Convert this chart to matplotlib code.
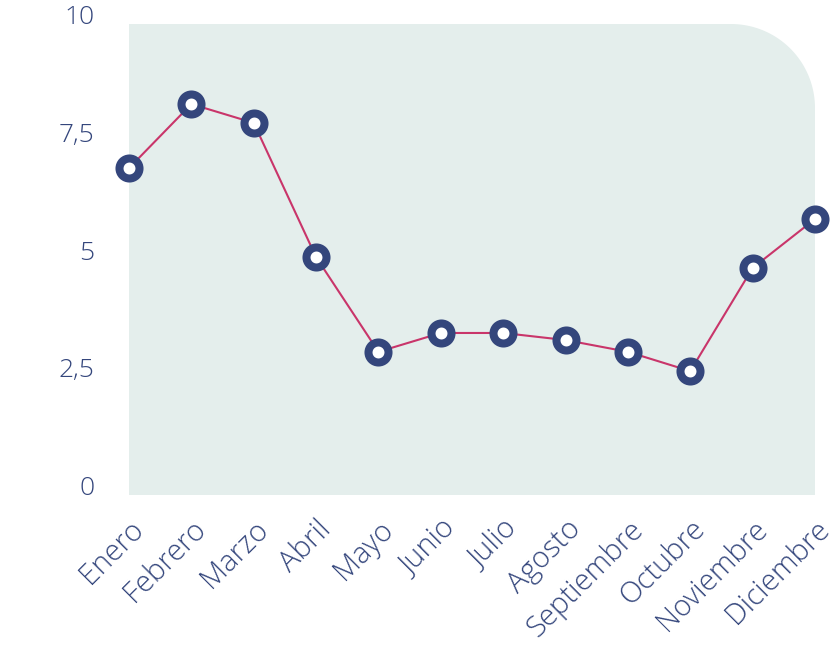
"""monthly line chart with rounded plot background."""
import numpy as np
import matplotlib
matplotlib.use('Agg')
import matplotlib.pyplot as plt
from matplotlib.path import Path
from matplotlib.patches import PathPatch

months = ['Enero', 'Febrero', 'Marzo', 'Abril', 'Mayo', 'Junio', 'Julio',
          'Agosto', 'Septiembre', 'Octubre', 'Noviembre', 'Diciembre']
values = [6.94, 8.30, 7.90, 5.05, 3.04, 3.44, 3.44, 3.29, 3.04, 2.63, 4.82, 5.86]
yticks = [0, 2.5, 5, 7.5, 10]
ytick_labels = ['0', '2,5', '5', '7,5', '10']

navy = '#34467c'
crimson = '#c9356a'
bg = '#e4eeec'

plt.rcParams['font.family'] = ['Open Sans', 'DejaVu Sans']

W, H = 838, 668
fig = plt.figure(figsize=(W / 100, H / 100), dpi=100)
ax = fig.add_axes([129 / W, (H - 495) / H, 686 / W, 471 / H])
ax.patch.set_visible(False)
for s in ax.spines.values():
    s.set_visible(False)

# background with rounded top-right corner (radius in pixels)
r = 84
rx, ry = r / 686, r / 471
t = np.linspace(0, np.pi / 2, 40)
arc = np.column_stack([1 - rx + rx * np.sin(t), 1 - ry + ry * np.cos(t)])
verts = np.vstack([[0, 0], [0, 1], [1 - rx, 1], arc, [1, 0], [0, 0]])
codes = [Path.MOVETO] + [Path.LINETO] * (len(verts) - 2) + [Path.CLOSEPOLY]
ax.add_patch(PathPatch(Path(verts, codes), transform=ax.transAxes,
                       facecolor=bg, edgecolor='none', zorder=0))

x = np.arange(len(months))
ax.plot(x, values, color=crimson, lw=1.5, zorder=2)
ax.plot(x, values, ls='none', marker='o', ms=14.4, mew=5.8,
        mec=navy, mfc='white', zorder=3, clip_on=False)

ax.set_xlim(0, 11)
ax.set_ylim(0, 10)
ax.set_yticks(yticks)
ax.set_yticklabels(ytick_labels)
ax.set_xticks(x)
ax.set_xticklabels(months, rotation=45, ha='right', va='top', rotation_mode='anchor')
ax.tick_params(length=0, colors=navy)
ax.tick_params(axis='y', pad=25, labelsize=19)
ax.tick_params(axis='x', pad=14, labelsize=21)
for lab in ax.get_yticklabels():
    lab.set_verticalalignment('baseline')
for lab in ax.get_xticklabels() + ax.get_yticklabels():
    lab.set_fontweight('light')

fig.savefig('out.png', dpi=100)
